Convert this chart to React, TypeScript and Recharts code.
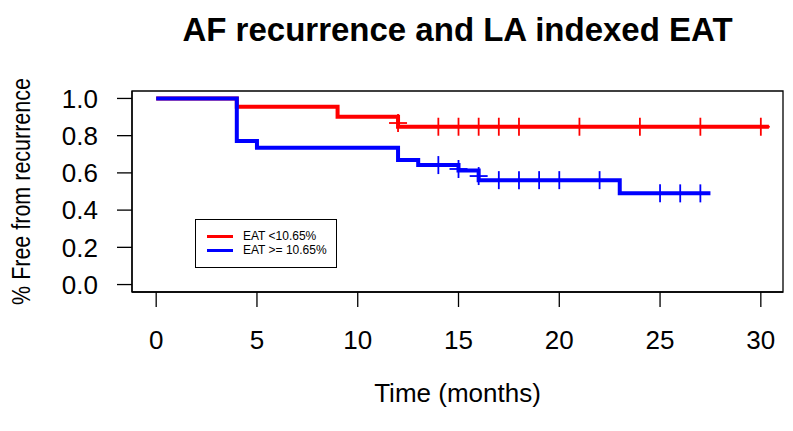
import React from 'react';
import {
    ComposedChart,
    Line,
    Scatter,
    XAxis,
    YAxis,
    ReferenceArea,
    Label,
} from 'recharts';

// Kaplan-Meier steps
const redTimes = [0, 4, 9, 12, 30.4];
const redSurv = [1, 0.956, 0.902, 0.848, 0.848];
const blueTimes = [0, 4, 5, 12, 13, 15, 16, 23, 27.5];
const blueSurv = [1, 0.771, 0.735, 0.669, 0.642, 0.613, 0.561, 0.49, 0.49];

// censored observations (+ marks)
const redCensorTimes = [12, 14, 15, 16, 17, 18, 21, 24, 27, 30];
const redCensorSurv = [0.868, 0.848, 0.848, 0.848, 0.848, 0.848, 0.848, 0.848, 0.848, 0.848];
const blueCensorTimes = [14, 15, 16, 17, 18, 19, 20, 22, 25, 26, 27];
const blueCensorSurv = [0.642, 0.621, 0.583, 0.561, 0.561, 0.561, 0.561, 0.561, 0.49, 0.49, 0.49];

const xTicks = [0, 5, 10, 15, 20, 25, 30];
const yTicks = [0, 0.2, 0.4, 0.6, 0.8, 1.0];
const xDomain = [-1.2, 31.1];
const yDomain = [-0.04, 1.04];

const legendItems = [
    { label: 'EAT <10.65%', color: '#ff0000' },
    { label: 'EAT >= 10.65%', color: '#0000ff' },
];

const zip = (t: number[], s: number[]) => t.map((v, i) => ({ t: v, s: s[i] }));

const redData = zip(redTimes, redSurv);
const blueData = zip(blueTimes, blueSurv);
const redCensor = zip(redCensorTimes, redCensorSurv);
const blueCensor = zip(blueCensorTimes, blueCensorSurv);

const FONT = '"Liberation Sans", Arial, sans-serif';

const plus = (color: string) => (props: any) => {
    const { cx, cy } = props;
    return (
        <g stroke={color} strokeWidth={1.8}>
            <line x1={cx - 9} x2={cx + 9} y1={cy} y2={cy} />
            <line x1={cx} x2={cx} y1={cy - 9} y2={cy + 9} />
        </g>
    );
};

// rotated label; the source image is a bit stretched sideways, hence the scale
const YLabel = (props: any) => {
    const { viewBox } = props;
    const x = viewBox.x + 30;
    const y = viewBox.y + viewBox.height / 2;
    return (
        <text
            x={0}
            y={0}
            transform={`translate(${x}, ${y}) rotate(-90) scale(1, 1.2)`}
            textAnchor="middle"
            fontSize={21.5}
            fontFamily={FONT}
            fill="#000"
        >
            % Free from recurrence
        </text>
    );
};

export default function App() {
    return (
        <div style={{ position: 'absolute', left: 0, top: 0, width: 793, height: 431, background: '#fff' }}>
            <div
                style={{
                    position: 'absolute',
                    left: 82,
                    width: 751,
                    top: 13,
                    textAlign: 'center',
                    fontFamily: FONT,
                    fontWeight: 'bold',
                    fontSize: 33,
                    lineHeight: '33px',
                }}
            >
                AF recurrence and LA indexed EAT
            </div>
            <ComposedChart width={793} height={431} margin={{ top: 91, right: 10, bottom: 0, left: 0 }}>
                <XAxis
                    dataKey="t"
                    type="number"
                    domain={xDomain}
                    ticks={xTicks}
                    allowDataOverflow
                    height={139}
                    tickSize={15}
                    tickMargin={24}
                    axisLine={{ stroke: '#000', strokeWidth: 1.3 }}
                    tickLine={{ stroke: '#000', strokeWidth: 1.3 }}
                    tick={{ fontSize: 26, fill: '#000', fontFamily: FONT }}
                >
                    <Label
                        value="Time (months)"
                        position="insideBottom"
                        offset={29}
                        style={{ fontSize: 26, fill: '#000', fontFamily: FONT }}
                    />
                </XAxis>
                <YAxis
                    type="number"
                    domain={yDomain}
                    ticks={yTicks}
                    allowDataOverflow
                    width={132}
                    tickSize={15}
                    tickMargin={19}
                    tickFormatter={(v: number) => v.toFixed(1)}
                    axisLine={{ stroke: '#000', strokeWidth: 1.3 }}
                    tickLine={{ stroke: '#000', strokeWidth: 1.3 }}
                    tick={{ fontSize: 26, fill: '#000', fontFamily: FONT }}
                >
                    <Label content={YLabel} />
                </YAxis>
                <ReferenceArea
                    x1={xDomain[0]}
                    x2={xDomain[1]}
                    y1={yDomain[0]}
                    y2={yDomain[1]}
                    fill="none"
                    stroke="#000"
                    strokeWidth={1.3}
                />
                <Line
                    data={redData}
                    dataKey="s"
                    type="stepAfter"
                    stroke="#ff0000"
                    strokeWidth={4}
                    dot={false}
                    activeDot={false}
                    isAnimationActive={false}
                />
                <Line
                    data={blueData}
                    dataKey="s"
                    type="stepAfter"
                    stroke="#0000ff"
                    strokeWidth={4}
                    dot={false}
                    activeDot={false}
                    isAnimationActive={false}
                />
                <Scatter data={redCensor} dataKey="s" shape={plus('#ff0000')} isAnimationActive={false} />
                <Scatter data={blueCensor} dataKey="s" shape={plus('#0000ff')} isAnimationActive={false} />
            </ComposedChart>
            <div
                style={{
                    position: 'absolute',
                    left: 195,
                    top: 219,
                    width: 142,
                    height: 49,
                    boxSizing: 'border-box',
                    border: '1.5px solid #000',
                    background: '#fff',
                    fontFamily: FONT,
                    fontSize: 12,
                    paddingTop: 9,
                }}
            >
                {legendItems.map((it) => (
                    <div key={it.label} style={{ display: 'flex', alignItems: 'center', height: 14 }}>
                        <span
                            style={{
                                display: 'inline-block',
                                marginLeft: 11,
                                width: 26,
                                height: 3,
                                background: it.color,
                            }}
                        />
                        <span style={{ marginLeft: 10 }}>{it.label}</span>
                    </div>
                ))}
            </div>
        </div>
    );
}
